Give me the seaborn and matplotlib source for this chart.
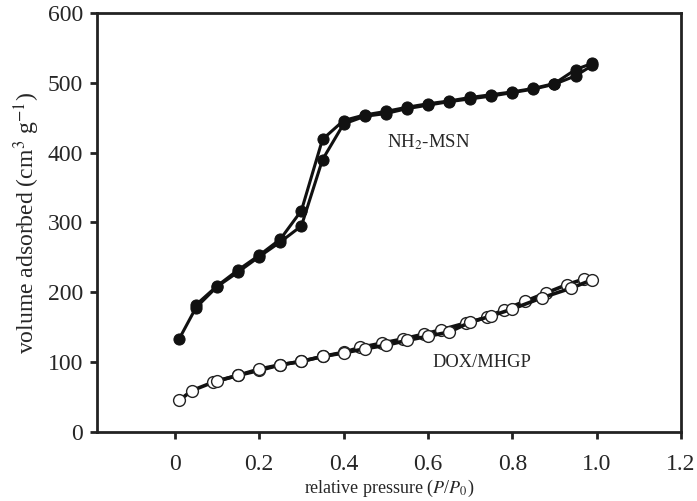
import seaborn as sns
import matplotlib.pyplot as plt
import numpy as np

# NH2-MSN isotherm (filled circles)
msn_ads_p = [0.01, 0.05, 0.10, 0.15, 0.20, 0.25, 0.30, 0.35, 0.40, 0.45, 0.50,
             0.55, 0.60, 0.65, 0.70, 0.75, 0.80, 0.85, 0.90, 0.95, 0.99]
msn_ads_v = [133, 178, 208, 229, 251, 272, 295, 390, 441, 452, 456,
             463, 468, 473, 477, 481, 486, 491, 498, 510, 525]
msn_des_p = [0.99, 0.95, 0.90, 0.85, 0.80, 0.75, 0.70, 0.65, 0.60, 0.55, 0.50,
             0.45, 0.40, 0.35, 0.30, 0.25, 0.20, 0.15, 0.10, 0.05]
msn_des_v = [528, 519, 499, 492, 487, 483, 479, 474, 470, 465, 459,
             454, 446, 419, 317, 276, 253, 232, 209, 182]

# DOX/MHGP isotherm (open circles)
dox_ads_p = [0.01, 0.04, 0.09, 0.15, 0.20, 0.25, 0.30, 0.35, 0.40, 0.44, 0.49,
             0.54, 0.59, 0.63, 0.69, 0.74, 0.78, 0.83, 0.88, 0.93, 0.97]
dox_ads_v = [45, 59, 71, 81, 88, 96, 101, 108, 114, 121, 127,
             133, 140, 146, 156, 164, 175, 187, 199, 211, 219]
dox_des_p = [0.99, 0.94, 0.87, 0.80, 0.75, 0.70, 0.65, 0.60, 0.55, 0.50,
             0.45, 0.40, 0.35, 0.30, 0.25, 0.20, 0.15, 0.10]
dox_des_v = [218, 206, 192, 176, 166, 157, 143, 137, 131, 124,
             119, 113, 108, 101, 96, 90, 81, 73]

sns.set_style("ticks")
plt.rcParams['font.family'] = ['Liberation Serif', 'DejaVu Serif']
plt.rcParams['mathtext.fontset'] = 'stix'

fig = plt.figure(figsize=(6.97, 5.01), dpi=100)
ax = fig.add_axes([0.139, 0.138, 0.838, 0.836])

for p, v in [(msn_ads_p, msn_ads_v), (msn_des_p, msn_des_v)]:
    sns.lineplot(x=p, y=v, sort=False, estimator=None, ax=ax, color='#111111',
                 lw=2.2, marker='o', markersize=8, markerfacecolor='#111111',
                 markeredgecolor='#111111')
for p, v in [(dox_ads_p, dox_ads_v), (dox_des_p, dox_des_v)]:
    sns.lineplot(x=p, y=v, sort=False, estimator=None, ax=ax, color='#111111',
                 lw=2.6, marker='o', markersize=8.5, markerfacecolor='white',
                 markeredgecolor='#222222', markeredgewidth=1.0)

ax.set_xlim(-0.185, 1.2)
ax.set_ylim(0, 600)
ax.set_xticks([0, 0.2, 0.4, 0.6, 0.8, 1.0, 1.2])
ax.set_xticklabels(['0', '0.2', '0.4', '0.6', '0.8', '1.0', '1.2'])
ax.set_yticks([0, 100, 200, 300, 400, 500, 600])
ax.tick_params(labelsize=17, width=2, length=5, color='#222222')
ax.tick_params(axis='x', pad=11)
ax.tick_params(axis='y', pad=5)
for s in ax.spines.values():
    s.set_linewidth(2)
    s.set_color('#222222')

ax.set_xlabel(r'relative pressure ($P$/$P_0$)', fontsize=13, labelpad=2)
ax.set_ylabel(r'volume adsorbed (cm$^3$ g$^{-1}$)', fontsize=17, labelpad=4)

ax.text(0.502, 415, r'NH$_2$-MSN', fontsize=13.5, ha='left', va='center')
ax.text(0.611, 100, 'DOX/MHGP', fontsize=13.3, ha='left', va='center')

plt.savefig('out.png', dpi=100)
